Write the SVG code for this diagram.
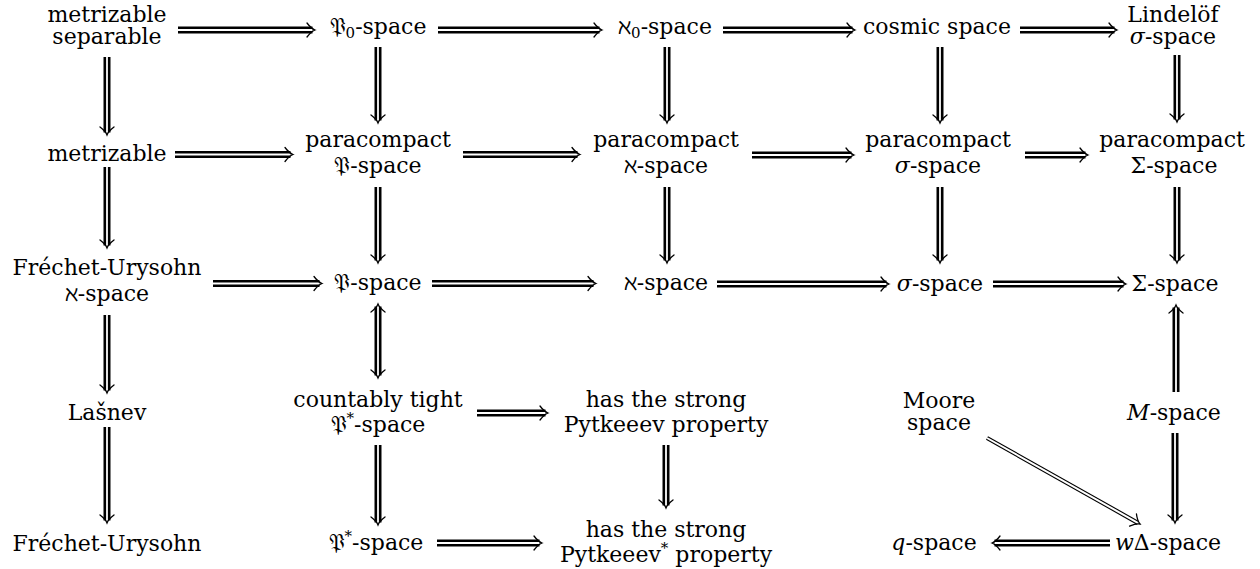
<svg xmlns="http://www.w3.org/2000/svg" xmlns:xlink="http://www.w3.org/1999/xlink" width="1260" height="569" viewBox="0 0 1260 569">
<style>
text{font-family:"DejaVu Serif",serif;font-size:22px;text-anchor:middle;fill:#000}
.m{font-style:italic}
.o{stroke:#000;stroke-width:7;fill:none}
.i{stroke:#fff;stroke-width:1.8;fill:none}
.ot{stroke:#000;stroke-width:4.2;fill:none}
.it{stroke:#fff;stroke-width:2;fill:none}
.h{fill:none;stroke:#000;stroke-width:1.3;stroke-linecap:round}
</style>
<defs>
<path id="ah" class="h" d="M-8,-7 C-5,-3 -2,-0.8 0,0 C-2,0.8 -5,3 -8,7"/>
</defs>
<rect width="1260" height="569" fill="#fff"/>

<g id="connectors">
<path class="o" d="M178 30H312.5"/><path class="i" d="M178 30H312.5"/><use xlink:href="#ah" transform="translate(315,30)"/>
<path class="o" d="M438 30H599.5"/><path class="i" d="M438 30H599.5"/><use xlink:href="#ah" transform="translate(602,30)"/>
<path class="o" d="M723 30H852.5"/><path class="i" d="M723 30H852.5"/><use xlink:href="#ah" transform="translate(855,30)"/>
<path class="o" d="M1020 30H1114.5"/><path class="i" d="M1020 30H1114.5"/><use xlink:href="#ah" transform="translate(1117,30)"/>
<path class="o" d="M175 154.5H290.5"/><path class="i" d="M175 154.5H290.5"/><use xlink:href="#ah" transform="translate(293,154.5)"/>
<path class="o" d="M463 154.5H577.5"/><path class="i" d="M463 154.5H577.5"/><use xlink:href="#ah" transform="translate(580,154.5)"/>
<path class="o" d="M752 155H851.5"/><path class="i" d="M752 155H851.5"/><use xlink:href="#ah" transform="translate(854,155)"/>
<path class="o" d="M1025 155H1085.5"/><path class="i" d="M1025 155H1085.5"/><use xlink:href="#ah" transform="translate(1088,155)"/>
<path class="o" d="M213 283.5H319.5"/><path class="i" d="M213 283.5H319.5"/><use xlink:href="#ah" transform="translate(322,283.5)"/>
<path class="o" d="M432 283.5H593.5"/><path class="i" d="M432 283.5H593.5"/><use xlink:href="#ah" transform="translate(596,283.5)"/>
<path class="o" d="M717 284H886.5"/><path class="i" d="M717 284H886.5"/><use xlink:href="#ah" transform="translate(889,284)"/>
<path class="o" d="M993 284H1123.5"/><path class="i" d="M993 284H1123.5"/><use xlink:href="#ah" transform="translate(1126,284)"/>
<path class="o" d="M477 413H545.5"/><path class="i" d="M477 413H545.5"/><use xlink:href="#ah" transform="translate(548,413)"/>
<path class="o" d="M437 543H539.5"/><path class="i" d="M437 543H539.5"/><use xlink:href="#ah" transform="translate(542,543)"/>
<path class="o" d="M1110 543H994.5"/><path class="i" d="M1110 543H994.5"/><use xlink:href="#ah" transform="translate(992,543) rotate(180)"/>
<path class="o" d="M107 57V132.5"/><path class="i" d="M107 57V132.5"/><use xlink:href="#ah" transform="translate(107,135) rotate(90)"/>
<path class="o" d="M107 167V245.5"/><path class="i" d="M107 167V245.5"/><use xlink:href="#ah" transform="translate(107,248) rotate(90)"/>
<path class="o" d="M107 315V390.5"/><path class="i" d="M107 315V390.5"/><use xlink:href="#ah" transform="translate(107,393) rotate(90)"/>
<path class="o" d="M107 427V520.5"/><path class="i" d="M107 427V520.5"/><use xlink:href="#ah" transform="translate(107,523) rotate(90)"/>
<path class="o" d="M378 47V120.5"/><path class="i" d="M378 47V120.5"/><use xlink:href="#ah" transform="translate(378,123) rotate(90)"/>
<path class="o" d="M378 187V260.5"/><path class="i" d="M378 187V260.5"/><use xlink:href="#ah" transform="translate(378,263) rotate(90)"/>
<path class="o" d="M378 306.5V375.5"/><path class="i" d="M378 306.5V375.5"/><use xlink:href="#ah" transform="translate(378,304) rotate(-90)"/><use xlink:href="#ah" transform="translate(378,378) rotate(90)"/>
<path class="o" d="M378 445V522.5"/><path class="i" d="M378 445V522.5"/><use xlink:href="#ah" transform="translate(378,525) rotate(90)"/>
<path class="o" d="M667 47V120.5"/><path class="i" d="M667 47V120.5"/><use xlink:href="#ah" transform="translate(667,123) rotate(90)"/>
<path class="o" d="M667 187V260.5"/><path class="i" d="M667 187V260.5"/><use xlink:href="#ah" transform="translate(667,263) rotate(90)"/>
<path class="o" d="M666 445V505.5"/><path class="i" d="M666 445V505.5"/><use xlink:href="#ah" transform="translate(666,508) rotate(90)"/>
<path class="o" d="M940 47V120.5"/><path class="i" d="M940 47V120.5"/><use xlink:href="#ah" transform="translate(940,123) rotate(90)"/>
<path class="o" d="M940 187V260.5"/><path class="i" d="M940 187V260.5"/><use xlink:href="#ah" transform="translate(940,263) rotate(90)"/>
<path class="o" d="M1177 55V119.5"/><path class="i" d="M1177 55V119.5"/><use xlink:href="#ah" transform="translate(1177,122) rotate(90)"/>
<path class="o" d="M1177 187V260.5"/><path class="i" d="M1177 187V260.5"/><use xlink:href="#ah" transform="translate(1177,263) rotate(90)"/>
<path class="o" d="M1176 392V307.5"/><path class="i" d="M1176 392V307.5"/><use xlink:href="#ah" transform="translate(1176,305) rotate(-90)"/>
<path class="o" d="M1175 433V520.5"/><path class="i" d="M1175 433V520.5"/><use xlink:href="#ah" transform="translate(1175,523) rotate(90)"/>
<path class="ot" d="M987 438L1137.8 522.8"/><path class="it" d="M987 438L1137.8 522.8"/><use xlink:href="#ah" transform="translate(1140,524) rotate(29.3)"/>
</g>

<g id="n1"><text x="107" y="22">metrizable</text><text x="107" y="44">separable</text></g>
<g id="n2"><text x="378" y="34">𝔓<tspan font-size="15" dy="4">0</tspan><tspan dy="-4">-space</tspan></text></g>
<g id="n3"><text x="665" y="34">ℵ<tspan font-size="15" dy="4">0</tspan><tspan dy="-4">-space</tspan></text></g>
<g id="n4"><text x="937" y="34">cosmic space</text></g>
<g id="n5"><text x="1173" y="22">Lindelöf</text><text x="1173" y="44"><tspan class="m">σ</tspan>-space</text></g>
<g id="n6"><text x="107" y="161">metrizable</text></g>
<g id="n7"><text x="378" y="147">paracompact</text><text x="378" y="173">𝔓-space</text></g>
<g id="n8"><text x="666" y="147">paracompact</text><text x="666" y="173">ℵ-space</text></g>
<g id="n9"><text x="938" y="147">paracompact</text><text x="938" y="173"><tspan class="m">σ</tspan>-space</text></g>
<g id="n10"><text x="1172" y="147">paracompact</text><text x="1174" y="173">Σ-space</text></g>
<g id="n11"><text x="107" y="275">Fréchet-Urysohn</text><text x="107" y="301">ℵ-space</text></g>
<g id="n12"><text x="378" y="290">𝔓-space</text></g>
<g id="n13"><text x="666" y="290">ℵ-space</text></g>
<g id="n14"><text x="940" y="291"><tspan class="m">σ</tspan>-space</text></g>
<g id="n15"><text x="1175" y="291">Σ-space</text></g>
<g id="n16"><text x="107" y="420">Lašnev</text></g>
<g id="n17"><text x="378" y="407">countably tight</text><text x="378" y="432">𝔓<tspan font-size="15" dy="-9">*</tspan><tspan dy="9">-space</tspan></text></g>
<g id="n18"><text x="666" y="407">has the strong</text><text x="666" y="432">Pytkeeev property</text></g>
<g id="n19"><text x="939" y="408">Moore</text><text x="939" y="430">space</text></g>
<g id="n20"><text x="1174" y="420"><tspan class="m">M</tspan>-space</text></g>
<g id="n21"><text x="107" y="551">Fréchet-Urysohn</text></g>
<g id="n22"><text x="376" y="550">𝔓<tspan font-size="15" dy="-9">*</tspan><tspan dy="9">-space</tspan></text></g>
<g id="n23"><text x="666" y="537">has the strong</text><text x="666" y="562">Pytkeeev<tspan font-size="15" dy="-9">*</tspan><tspan dy="9"> property</tspan></text></g>
<g id="n24"><text x="934" y="550"><tspan class="m">q</tspan>-space</text></g>
<g id="n25"><text x="1168" y="550"><tspan class="m">w</tspan>Δ-space</text></g>
</svg>
